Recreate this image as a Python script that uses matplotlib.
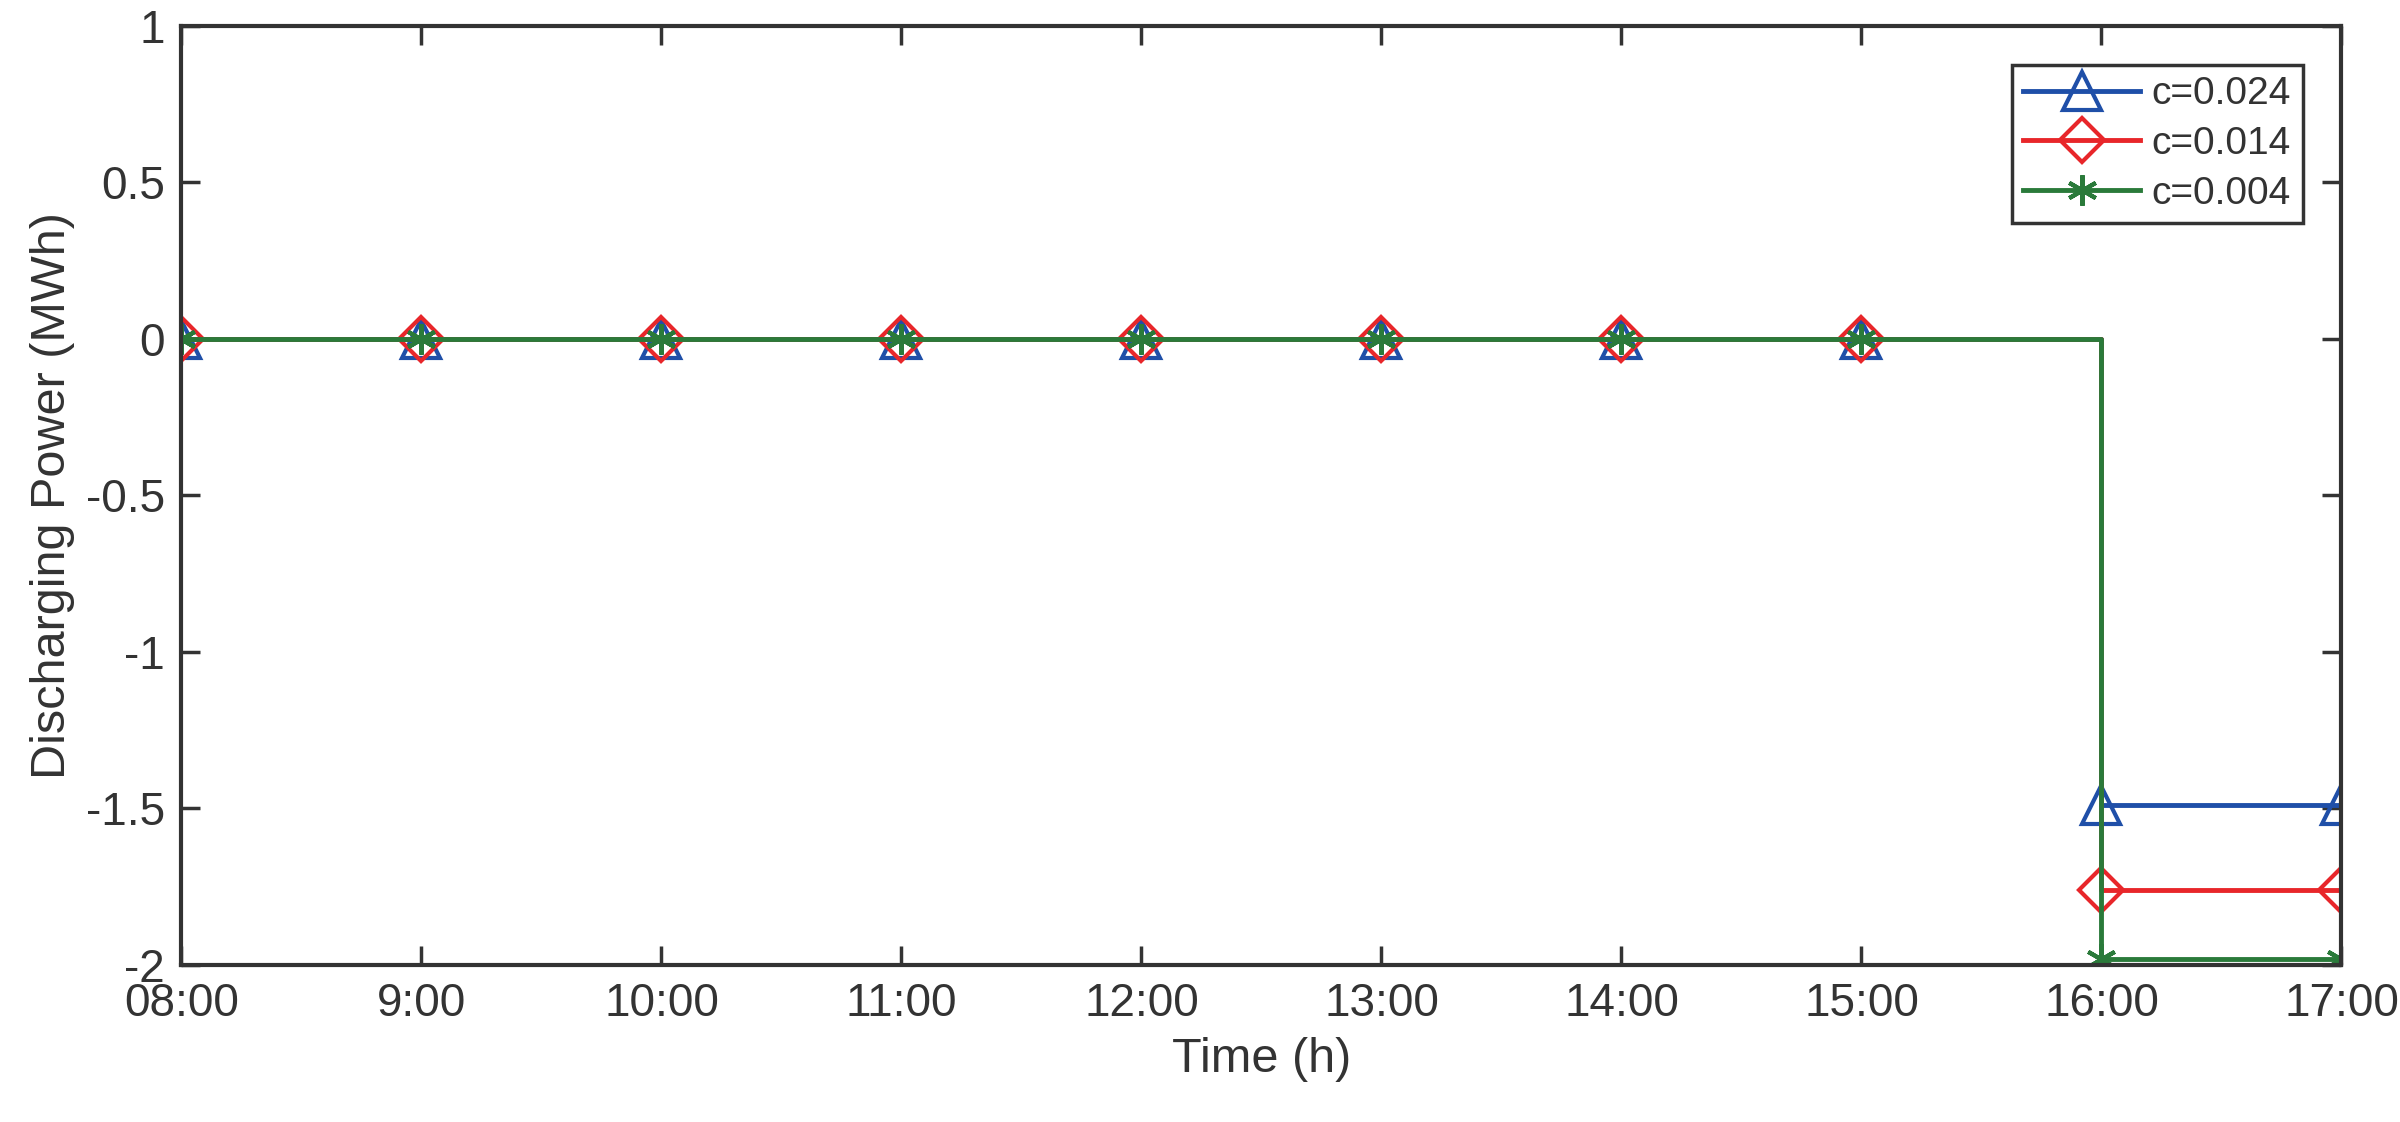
import matplotlib
matplotlib.use("Agg")
import matplotlib.pyplot as plt

hours = [8, 9, 10, 11, 12, 13, 14, 15, 16, 17]
xlabels = ["08:00", "9:00", "10:00", "11:00", "12:00", "13:00", "14:00", "15:00", "16:00", "17:00"]
c024 = [0, 0, 0, 0, 0, 0, 0, 0, -1.49, -1.49]
c014 = [0, 0, 0, 0, 0, 0, 0, 0, -1.76, -1.76]
c004 = [0, 0, 0, 0, 0, 0, 0, 0, -1.98, -1.98]

plt.rcParams['font.family'] = ['Liberation Sans', 'DejaVu Sans']
fig = plt.figure(figsize=(24, 11.22), dpi=100)
ax = fig.add_axes([0.0756, 0.14, 0.9, 0.837])
txt = '#333333'
series = [(c024, '#1f4fa8', '^', 'c=0.024', 'none', 28),
          (c014, '#e8262a', 'D', 'c=0.014', 'none', 22),
          (c004, '#2a7a3a', (6, 2, 0), 'c=0.004', None, 22)]
for y, col, m, lab, fc, ms in series:
    ax.step(hours, y, where='post', color=col, lw=3.5, marker=m, ms=ms,
            mfc=(fc if fc else col), mec=col, mew=3, label=lab)
ax.set_xlim(8, 17)
ax.set_ylim(-2, 1)
ax.set_xticks(hours)
ax.set_xticklabels(xlabels)
ax.set_yticks([-2, -1.5, -1, -0.5, 0, 0.5, 1])
ax.set_yticklabels(['-2', '-1.5', '-1', '-0.5', '0', '0.5', '1'])
ax.tick_params(labelsize=33, colors=txt, direction='in', length=14, width=2.5, top=True, right=True, pad=12)
for s in ax.spines.values():
    s.set_linewidth(3); s.set_color(txt)
ax.set_xlabel('Time (h)', fontsize=35, color=txt, labelpad=8)
ax.set_ylabel('Discharging Power (MWh)', fontsize=35, color=txt, labelpad=8)
leg = ax.legend(loc='upper right', fontsize=28, frameon=True, fancybox=False,
                edgecolor='black', handlelength=3, borderaxespad=1.0,
                borderpad=0.3, labelspacing=0.35, handletextpad=0.3)
leg.get_frame().set_linewidth(2.5)
for t in leg.get_texts():
    t.set_color(txt)
fig.savefig('out.png', dpi=100)
